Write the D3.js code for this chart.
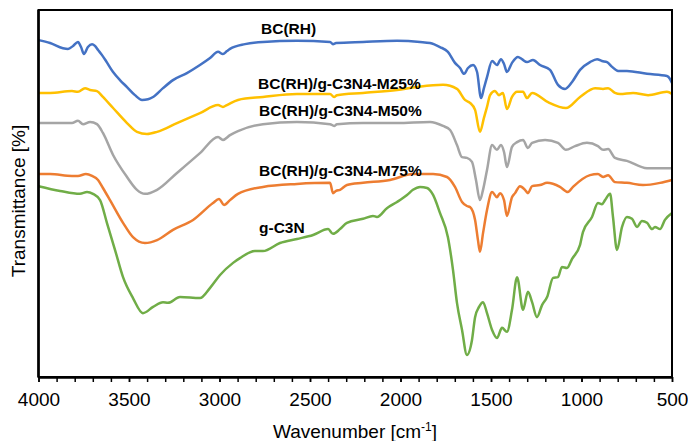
<!DOCTYPE html>
<html>
<head>
<meta charset="utf-8">
<script src="https://cdn.jsdelivr.net/npm/d3@7"></script>
<style>
  body { margin: 0; background: #fff; }
  svg { display: block; }
</style>
</head>
<body>
<div id="chart"></div>
<script>
// FTIR spectra, offset transmittance (arbitrary %, no y ticks in the original)
const bcWn = [4000,3936,3865,3837,3809,3782,3765,3749,3727,3704,3688,3671,3649,3627,3588,3550,3511,3467,3428,3395,3367,3312,3257,3180,3108,3052,3008,2981,2959,2942,2859,2760,2572,2389,2373,2356,2207,2019,1892,1837,1782,1738,1699,1671,1649,1627,1599,1577,1555,1539,1522,1494,1467,1445,1428,1412,1384,1351,1329,1301,1268,1229,1174,1130,1091,1052,1008,953,914,887,859,831,798,749,638,528,511,500];
const bcT  = [91.8,91.0,89.6,89.4,90.2,91.3,89.9,88.0,89.9,90.7,90.2,89.1,87.7,86.1,83.1,80.9,79.0,76.8,75.5,75.7,76.3,78.7,80.9,82.8,85.0,86.9,88.6,88.0,88.8,89.4,90.7,91.3,91.6,91.3,90.7,91.0,91.3,91.6,91.3,91.0,89.9,88.6,85.6,84.2,82.6,84.2,85.0,83.1,76.0,78.7,81.7,86.1,85.0,86.6,85.3,83.1,85.6,87.2,86.6,85.8,86.4,85.0,83.7,79.6,78.5,80.4,83.7,85.8,86.6,86.1,85.8,84.5,83.4,83.4,82.6,82.0,81.2,80.1];

const m25Wn = [4000,3936,3815,3782,3743,3715,3677,3644,3588,3511,3456,3401,3345,3235,3108,3008,2981,2959,2898,2760,2572,2389,2367,2351,2207,2019,1909,1765,1688,1644,1616,1588,1561,1539,1522,1505,1478,1456,1434,1412,1384,1356,1323,1301,1273,1185,1086,1008,925,881,853,815,787,715,632,528,500];
const m25T  = [77.4,77.4,77.9,77.7,78.7,78.2,77.9,76.3,73.3,69.2,66.8,66.2,66.8,69.2,71.9,74.1,73.6,74.1,75.5,76.3,77.1,77.1,76.3,76.8,77.4,78.2,79.0,79.6,78.5,75.5,74.7,72.8,66.8,70.6,73.6,76.8,77.9,76.8,77.4,73.0,76.3,77.7,77.7,76.0,77.4,74.9,73.3,76.3,78.7,78.5,78.7,77.4,77.1,77.4,76.8,77.7,77.1];

const m50Wn = [4000,3936,3815,3782,3754,3715,3677,3644,3588,3511,3456,3412,3345,3235,3108,3008,2981,2942,2898,2760,2572,2389,2367,2351,2207,2019,1837,1765,1726,1688,1660,1633,1605,1583,1561,1544,1522,1494,1467,1445,1428,1412,1384,1356,1323,1296,1273,1201,1130,1086,1036,970,909,881,853,815,749,638,500];
const m50T  = [69.2,69.2,69.2,69.8,68.9,69.5,68.9,66.5,60.5,54.5,51.0,49.9,51.0,55.6,61.0,65.4,64.6,65.9,67.0,68.9,69.5,68.9,68.4,68.9,69.2,69.2,69.5,68.4,67.3,63.2,59.9,59.7,58.6,53.7,48.2,51.0,56.4,63.2,61.9,63.2,61.3,57.2,62.7,64.0,64.6,62.4,63.8,64.6,63.8,61.9,62.9,63.8,62.9,61.9,62.1,59.7,58.9,56.9,56.9];

const m75Wn = [4000,3936,3815,3782,3738,3704,3671,3644,3605,3533,3478,3412,3345,3257,3146,3036,3003,2975,2942,2898,2760,2572,2389,2373,2356,2334,2296,2207,2058,1931,1820,1743,1699,1660,1633,1616,1588,1572,1561,1544,1522,1494,1467,1450,1428,1412,1384,1367,1340,1312,1296,1273,1229,1190,1119,1075,1047,953,909,881,853,815,749,660,566,500];
const m75T  = [55.3,55.3,54.8,54.8,55.3,54.8,53.7,51.5,48.2,42.0,38.1,36.5,37.3,40.1,42.8,47.4,48.5,46.9,48.2,49.9,51.8,52.6,52.9,50.1,50.7,51.0,52.3,52.9,53.7,55.3,55.3,54.5,51.8,47.7,46.6,46.3,42.8,37.3,34.1,39.2,45.5,50.4,49.0,50.1,48.2,43.9,49.0,50.1,52.0,51.0,50.1,52.0,52.3,52.9,51.8,50.4,51.8,55.0,55.3,54.5,55.0,53.1,52.9,52.3,52.9,53.7];

const gcnWn = [4000,3881,3771,3732,3699,3660,3622,3577,3533,3478,3423,3367,3312,3285,3218,3108,3052,2997,2925,2887,2804,2760,2666,2572,2483,2400,2373,2334,2296,2207,2152,2130,2075,2019,1964,1931,1892,1853,1820,1782,1738,1710,1688,1660,1633,1605,1588,1566,1544,1522,1494,1467,1439,1412,1384,1356,1323,1296,1273,1246,1218,1190,1157,1130,1108,1080,1052,1008,992,942,909,887,870,842,826,804,776,749,721,693,666,638,610,594,566,539,500];
const gcnT  = [52.0,50.7,49.9,50.4,49.9,48.2,42.0,34.6,27.2,21.5,17.4,19.1,20.4,20.2,21.8,21.5,24.3,27.8,31.1,32.4,34.3,34.3,36.5,37.6,38.7,40.3,39.0,40.3,42.0,43.1,43.9,43.6,46.0,47.7,49.6,51.0,51.8,51.5,49.6,44.7,38.1,29.2,20.2,12.8,6.0,10.1,16.3,19.1,20.4,17.4,12.8,10.6,13.4,12.3,18.3,27.2,18.3,23.2,20.4,16.3,19.6,21.8,27.0,27.2,30.0,29.7,32.2,36.0,39.5,43.6,47.4,47.1,48.2,49.9,43.6,34.6,40.9,43.6,43.1,40.9,42.5,42.0,40.3,40.9,40.3,42.8,44.7];

const seriesNames  = ["BC(RH)", "BC(RH)/g-C3N4-M25%", "BC(RH)/g-C3N4-M50%", "BC(RH)/g-C3N4-M75%", "g-C3N"];
const seriesColors = ["#4472C4", "#FFC000", "#A5A5A5", "#ED7D31", "#70AD47"];
const xTicks = [4000, 3500, 3000, 2500, 2000, 1500, 1000, 500];

const WIDTH = 688;
const HEIGHT = 441;
const margin = {top: 10, right: 16, bottom: 64, left: 38.5};

const svg = d3.select("#chart")
    .append("svg")
    .attr("width", WIDTH)
    .attr("height", HEIGHT);

const x = d3.scaleLinear()
    .domain([4000, 500])
    .range([margin.left, WIDTH - margin.right]);

const y = d3.scaleLinear()
    .domain([0, 100])
    .range([HEIGHT - margin.bottom, margin.top]);

const series = [
    {wn: bcWn, t: bcT},
    {wn: m25Wn, t: m25T},
    {wn: m50Wn, t: m50T},
    {wn: m75Wn, t: m75T},
    {wn: gcnWn, t: gcnT}
];

const line = d3.line()
    .x(d => x(d[0]))
    .y(d => y(d[1]))
    .curve(d3.curveMonotoneX);

// draw green last so it sits on top like the original
const order = [0, 1, 2, 3, 4];
order.forEach(i => {
    const s = series[i];
    svg.append("path")
        .datum(d3.zip(s.wn, s.t))
        .attr("fill", "none")
        .attr("stroke", seriesColors[i])
        .attr("stroke-width", 2.5)
        .attr("stroke-linejoin", "round")
        .attr("d", line);
});

// frame
svg.append("rect")
    .attr("x", margin.left)
    .attr("y", margin.top)
    .attr("width", WIDTH - margin.right - margin.left)
    .attr("height", HEIGHT - margin.bottom - margin.top)
    .attr("fill", "none")
    .attr("stroke", "#000")
    .attr("stroke-width", 2);

svg.append("line")
    .attr("x1", margin.left).attr("x2", margin.left)
    .attr("y1", margin.top).attr("y2", HEIGHT - margin.bottom)
    .attr("stroke", "#000").attr("stroke-width", 2.5);

// minor ticks
svg.append("g")
    .attr("transform", `translate(0,${HEIGHT - margin.bottom})`)
    .call(d3.axisBottom(x).tickValues(d3.range(4000, 499, -100)).tickSize(5).tickFormat(""))
    .call(g => g.select(".domain").remove())
    .call(g => g.selectAll("line").attr("stroke-width", 1.5));

// major ticks + labels
const xAxis = svg.append("g")
    .attr("transform", `translate(0,${HEIGHT - margin.bottom})`)
    .call(d3.axisBottom(x).tickValues(xTicks).tickSize(5).tickSizeOuter(0).tickPadding(11).tickFormat(d3.format("d")));

xAxis.select(".domain").attr("stroke-width", 2.5);
xAxis.selectAll("line").attr("stroke-width", 1.5);
xAxis.selectAll("text")
    .attr("font-family", "Liberation Sans, Arial, sans-serif")
    .attr("font-size", 19)
    .attr("fill", "#000");

// axis titles
const xTitle = svg.append("text")
    .attr("x", 355)
    .attr("y", 438)
    .attr("text-anchor", "middle")
    .attr("font-family", "Liberation Sans, Arial, sans-serif")
    .attr("font-size", 19)
    .attr("fill", "#000");
xTitle.append("tspan").text("Wavenumber [cm");
xTitle.append("tspan").attr("font-size", 12).attr("dy", -7).text("-1");
xTitle.append("tspan").attr("dy", 7).text("]");

svg.append("text")
    .attr("transform", "translate(25,201) rotate(-90)")
    .attr("text-anchor", "middle")
    .attr("font-family", "Liberation Sans, Arial, sans-serif")
    .attr("font-size", 19)
    .attr("fill", "#000")
    .text("Transmittance [%]");

// series labels
const labelPos = [[261, 34], [258, 89], [259, 116], [259, 176], [259, 233]];
seriesNames.forEach((name, i) => {
    svg.append("text")
        .attr("x", labelPos[i][0])
        .attr("y", labelPos[i][1])
        .attr("font-family", "Liberation Sans, Arial, sans-serif")
        .attr("font-weight", "bold")
        .attr("font-size", 15.5)
        .attr("fill", "#000")
        .text(name);
});
</script>
</body>
</html>
